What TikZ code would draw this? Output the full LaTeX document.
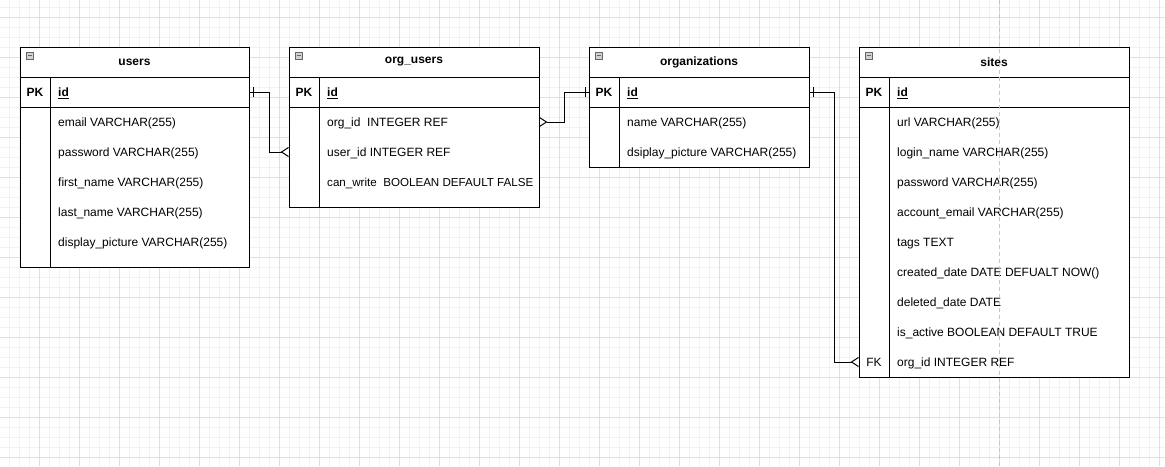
\documentclass[tikz,border=0pt]{standalone}
\usepackage{fontspec}
\setmainfont{Liberation Sans}
\usetikzlibrary{arrows.meta,decorations.markings}

\tikzset{
  ermany/.tip={Straight Barb[reversed,length=7pt,width=9pt]}
}

\begin{document}
\begin{tikzpicture}[x=1pt, y=-1pt,
    font=\fontsize{12}{14}\selectfont,
    minor/.style={gray!10, line width=1pt},
    major/.style={gray!25, line width=1pt},
    table/.style={draw, line width=1pt, fill=white, anchor=north west, inner sep=0pt, outer sep=0pt},
    title/.style={font=\fontsize{12}{14}\selectfont\bfseries, inner sep=0pt},
    key/.style={font=\fontsize{12}{14}\selectfont\bfseries, inner sep=0pt, text height=10.5pt, text depth=1.5pt},
    field/.style={anchor=west, inner sep=0pt, text height=10.5pt, text depth=1.5pt},
    fold/.style={draw=gray!80!black, fill=gray!35, line width=0.6pt, minimum size=7pt, inner sep=0pt,
      path picture={\draw[line width=0.8pt] ([xshift=1.5pt]path picture bounding box.west) -- ([xshift=-1.5pt]path picture bounding box.east);}},
    rel/.style={draw, line width=1pt},
    one start/.style={postaction={decorate, decoration={markings,
      mark=at position 4pt with {\draw[-, line width=1pt] (0pt,-5pt) -- (0pt,5pt);}}}},
    one end/.style={postaction={decorate, decoration={markings,
      mark=at position -4pt with {\draw[-, line width=1pt] (0pt,-5pt) -- (0pt,5pt);}}}}
  ]
  \useasboundingbox (0,0) rectangle (1165,466);
  % Grid
  \fill[white] (0,0) rectangle (1165,466);
  \foreach \x in {9.5,19.5,...,1165} \draw[minor] (\x,0) -- (\x,466);
  \foreach \y in {7.5,17.5,...,466} \draw[minor] (0,\y) -- (1165,\y);
  \foreach \x in {39.5,79.5,...,1165} \draw[major] (\x,0) -- (\x,466);
  \foreach \y in {17.5,57.5,...,466} \draw[major] (0,\y) -- (1165,\y);

  % users
  \node[table, minimum width=229, minimum height=220] (users) at (20,47) {};
  \draw[line width=1pt] ([yshift=-30pt]users.north west) -- ([yshift=-30pt]users.north east);
  \draw[line width=1pt] ([yshift=-60pt]users.north west) -- ([yshift=-60pt]users.north east);
  \draw[line width=1pt] ([xshift=30pt,yshift=-30pt]users.north west) -- ([xshift=30pt]users.south west);
  \node[fold] (users-fold) at ([xshift=9.5pt,yshift=-8.5pt]users.north west) {};
  \node[title] (users-title) at ([yshift=-15pt]users.north) {users};
  \node[key] (users-pk) at ([xshift=15pt,yshift=-45pt]users.north west) {PK};
  \node[field, font=\fontsize{12}{14}\selectfont\bfseries] (users-id) at ([xshift=38pt,yshift=-45pt]users.north west) {\underline{id}};
  \foreach \n/\t [count=\i] in {email/{email VARCHAR(255)}, password/{password VARCHAR(255)},
      firstname/{first\_name VARCHAR(255)}, lastname/{last\_name VARCHAR(255)},
      picture/{display\_picture VARCHAR(255)}}
    \node[field] (users-\n) at ([xshift=38pt,yshift={-(45+30*\i)*1pt}]users.north west) {\t};

  % org_users
  \node[table, minimum width=250, minimum height=160] (ou) at (289,47) {};
  \draw[line width=1pt] ([yshift=-30pt]ou.north west) -- ([yshift=-30pt]ou.north east);
  \draw[line width=1pt] ([yshift=-60pt]ou.north west) -- ([yshift=-60pt]ou.north east);
  \draw[line width=1pt] ([xshift=30pt,yshift=-30pt]ou.north west) -- ([xshift=30pt]ou.south west);
  \node[fold] (ou-fold) at ([xshift=9.5pt,yshift=-8.5pt]ou.north west) {};
  \node[title] (ou-title) at ([yshift=-15pt]ou.north) {org\_users};
  \node[key] (ou-pk) at ([xshift=15pt,yshift=-45pt]ou.north west) {PK};
  \node[field, font=\fontsize{12}{14}\selectfont\bfseries] (ou-id) at ([xshift=38pt,yshift=-45pt]ou.north west) {\underline{id}};
  \foreach \n/\t [count=\i] in {orgid/{org\_id\ \ INTEGER REF}, userid/{user\_id INTEGER REF},
      canwrite/{\fontsize{11.6}{14}\selectfont can\_write\ \ BOOLEAN DEFAULT FALSE}}
    \node[field] (ou-\n) at ([xshift=38pt,yshift={-(45+30*\i)*1pt}]ou.north west) {\t};

  % organizations
  \node[table, minimum width=220, minimum height=120] (orgs) at (589,47) {};
  \draw[line width=1pt] ([yshift=-30pt]orgs.north west) -- ([yshift=-30pt]orgs.north east);
  \draw[line width=1pt] ([yshift=-60pt]orgs.north west) -- ([yshift=-60pt]orgs.north east);
  \draw[line width=1pt] ([xshift=30pt,yshift=-30pt]orgs.north west) -- ([xshift=30pt]orgs.south west);
  \node[fold] (orgs-fold) at ([xshift=9.5pt,yshift=-8.5pt]orgs.north west) {};
  \node[title] (orgs-title) at ([yshift=-15pt]orgs.north) {organizations};
  \node[key] (orgs-pk) at ([xshift=15pt,yshift=-45pt]orgs.north west) {PK};
  \node[field, font=\fontsize{12}{14}\selectfont\bfseries] (orgs-id) at ([xshift=38pt,yshift=-45pt]orgs.north west) {\underline{id}};
  \foreach \n/\t [count=\i] in {name/{name VARCHAR(255)}, picture/{dsiplay\_picture VARCHAR(255)}}
    \node[field] (orgs-\n) at ([xshift=38pt,yshift={-(45+30*\i)*1pt}]orgs.north west) {\t};

  % sites
  \node[table, minimum width=270, minimum height=330] (sites) at (859,47) {};
  \draw[line width=1pt] ([yshift=-30pt]sites.north west) -- ([yshift=-30pt]sites.north east);
  \draw[line width=1pt] ([yshift=-60pt]sites.north west) -- ([yshift=-60pt]sites.north east);
  \draw[line width=1pt] ([xshift=30pt,yshift=-30pt]sites.north west) -- ([xshift=30pt]sites.south west);
  \node[fold] (sites-fold) at ([xshift=9.5pt,yshift=-8.5pt]sites.north west) {};
  \node[title] (sites-title) at ([yshift=-15pt]sites.north) {sites};
  \node[key] (sites-pk) at ([xshift=15pt,yshift=-45pt]sites.north west) {PK};
  \node[field, font=\fontsize{12}{14}\selectfont\bfseries] (sites-id) at ([xshift=38pt,yshift=-45pt]sites.north west) {\underline{id}};
  \foreach \n/\t [count=\i] in {url/{url VARCHAR(255)}, login/{login\_name VARCHAR(255)},
      password/{password VARCHAR(255)}, email/{account\_email VARCHAR(255)}, tags/{tags TEXT},
      created/{created\_date DATE DEFUALT NOW()}, deleted/{deleted\_date DATE},
      active/{is\_active BOOLEAN DEFAULT TRUE}, orgid/{org\_id INTEGER REF}}
    \node[field] (sites-\n) at ([xshift=38pt,yshift={-(45+30*\i)*1pt}]sites.north west) {\t};
  \node[key, font=\fontsize{12}{14}\selectfont] (sites-fk) at ([xshift=15pt,yshift=-315pt]sites.north west) {FK};

  % page break
  \draw[gray!45, line width=1pt, dash pattern=on 4pt off 3pt] (999.5,0) -- (999.5,466);

  % Relations
  \draw[rel, one start, -{ermany}] (users.east |- users-id) -- ++(20,0) |- (ou.west |- ou-userid);
  \draw[rel, one end, {ermany}-] (ou.east |- ou-orgid) -- ++(25,0) |- (orgs.west |- orgs-id);
  \draw[rel, one start, -{ermany}] (orgs.east |- orgs-id) -- ++(25,0) |- (sites.west |- sites-orgid);
\end{tikzpicture}
\end{document}
